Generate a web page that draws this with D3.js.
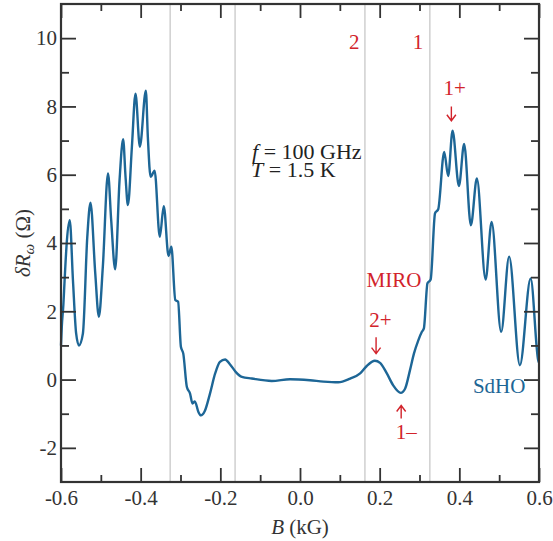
<!DOCTYPE html>
<html>
<head>
<meta charset="utf-8">
<script src="https://cdn.jsdelivr.net/npm/d3@7"></script>
<style>
  body { margin: 0; background: #fff; }
  text { font-family: "Liberation Serif", "Times New Roman", serif; }
</style>
</head>
<body>
<svg id="chart"></svg>
<script>
// magnetic field (kG) and photoresistance (Ohm)
const bField = [
  -0.600, -0.598, -0.594, -0.591, -0.585, -0.578, -0.570, -0.562, -0.555, -0.545,
  -0.534, -0.526, -0.514, -0.505, -0.495, -0.482, -0.474, -0.464, -0.453, -0.444,
  -0.438, -0.432, -0.422, -0.413, -0.402, -0.387, -0.382, -0.375, -0.365, -0.352,
  -0.342, -0.330, -0.323, -0.313, -0.306, -0.299, -0.293, -0.284, -0.276, -0.270,
  -0.264, -0.255, -0.249, -0.239, -0.226, -0.213, -0.201, -0.188, -0.176, -0.161,
  -0.146, -0.121, -0.071, -0.025, 0.025, 0.059, 0.096, 0.126, 0.151, 0.167,
  0.188, 0.201, 0.218, 0.234, 0.253, 0.264, 0.276, 0.286, 0.297, 0.306,
  0.311, 0.320, 0.328, 0.339, 0.347, 0.362, 0.372, 0.383, 0.399, 0.412,
  0.429, 0.444, 0.466, 0.481, 0.505, 0.525, 0.552, 0.579, 0.598, 0.600
];
const deltaR = [
  1.00, 1.55, 2.20, 2.90, 4.10, 4.67, 2.91, 1.35, 1.00, 1.35,
  4.18, 5.18, 3.11, 1.84, 3.30, 6.04, 4.67, 3.23, 5.84, 7.04,
  5.94, 5.11, 6.82, 8.37, 6.82, 8.46, 7.11, 5.94, 6.12, 4.18,
  5.08, 3.62, 3.89, 2.33, 2.28, 0.96, 0.76, -0.22, -0.41, -0.70,
  -0.64, -0.95, -1.05, -0.92, -0.41, 0.18, 0.52, 0.59, 0.45, 0.22,
  0.08, 0.03, -0.04, 0.01, -0.02, -0.06, -0.08, 0.03, 0.18, 0.39,
  0.55, 0.49, 0.18, -0.17, -0.39, -0.26, 0.27, 0.76, 1.15, 1.40,
  1.50, 2.82, 2.93, 4.87, 4.99, 6.67, 5.96, 7.29, 5.67, 6.90,
  4.52, 5.89, 2.93, 4.62, 1.40, 3.60, 0.42, 2.96, 0.57, 0.50
];

const xMajor = [-0.6, -0.4, -0.2, 0.0, 0.2, 0.4, 0.6];
const xLabels = ["-0.6", "-0.4", "-0.2", "0.0", "0.2", "0.4", "0.6"];
const xMinor = [-0.5, -0.3, -0.1, 0.1, 0.3, 0.5];
const yMajor = [-2, 0, 2, 4, 6, 8, 10];
const yLabels = ["-2", "0", "2", "4", "6", "8", "10"];
const yMinor = [-1, 1, 3, 5, 7, 9];
const miroFields = [-0.326, -0.163, 0.163, 0.326];

const W = 553, H = 541;
const margin = { top: 4, right: 14, bottom: 59, left: 61 };
const red = "#d2232b", blue = "#1d6696", ink = "#333";

const svg = d3.select("#chart").attr("width", W).attr("height", H);

const x = d3.scaleLinear().domain([-0.6, 0.6]).range([margin.left, W - margin.right]);
const y = d3.scaleLinear().domain([-3, 11]).range([H - margin.bottom, margin.top]);

// MIRO harmonic positions
svg.append("g")
  .selectAll("line")
  .data(miroFields)
  .enter().append("line")
  .attr("x1", d => x(d)).attr("x2", d => x(d))
  .attr("y1", y(11)).attr("y2", y(-3))
  .attr("stroke", "#c8c8c8")
  .attr("stroke-width", 1.3);

// trace
const pts = bField.map((b, i) => [b, deltaR[i]]);
const line = d3.line()
  .x(d => x(d[0]))
  .y(d => y(d[1]))
  .curve(d3.curveMonotoneX);

svg.append("path")
  .datum(pts)
  .attr("fill", "none")
  .attr("stroke", blue)
  .attr("stroke-width", 2.4)
  .attr("stroke-linejoin", "round")
  .attr("d", line);

// axes: ticks inward on all four sides
function styleAxis(g) {
  g.select(".domain").remove();
  g.selectAll(".tick line").attr("stroke", ink).attr("stroke-width", 1.8);
  g.selectAll(".tick text")
    .attr("fill", ink)
    .style("font-size", "21px")
    .style("font-family", "'Liberation Serif', 'Times New Roman', serif");
}

const yb = y(-3), yt = y(11), xl = x(-0.6), xr = x(0.6);

svg.append("g").attr("transform", `translate(0,${yb})`)
  .call(d3.axisBottom(x).tickValues(xMajor).tickSize(-14).tickPadding(8)
    .tickFormat((d, i) => xLabels[i]))
  .call(styleAxis);
svg.append("g").attr("transform", `translate(0,${yb})`)
  .call(d3.axisBottom(x).tickValues(xMinor).tickSize(-7).tickFormat(""))
  .call(styleAxis);
svg.append("g").attr("transform", `translate(0,${yt})`)
  .call(d3.axisTop(x).tickValues(xMajor).tickSize(-14).tickFormat(""))
  .call(styleAxis);
svg.append("g").attr("transform", `translate(0,${yt})`)
  .call(d3.axisTop(x).tickValues(xMinor).tickSize(-7).tickFormat(""))
  .call(styleAxis);

svg.append("g").attr("transform", `translate(${xl},0)`)
  .call(d3.axisLeft(y).tickValues(yMajor).tickSize(-15).tickPadding(4)
    .tickFormat((d, i) => yLabels[i]))
  .call(styleAxis);
svg.append("g").attr("transform", `translate(${xl},0)`)
  .call(d3.axisLeft(y).tickValues(yMinor).tickSize(-8).tickFormat(""))
  .call(styleAxis);
svg.append("g").attr("transform", `translate(${xr},0)`)
  .call(d3.axisRight(y).tickValues(yMajor).tickSize(-15).tickFormat(""))
  .call(styleAxis);
svg.append("g").attr("transform", `translate(${xr},0)`)
  .call(d3.axisRight(y).tickValues(yMinor).tickSize(-8).tickFormat(""))
  .call(styleAxis);

// frame
svg.append("rect")
  .attr("x", xl).attr("y", yt)
  .attr("width", xr - xl).attr("height", yb - yt)
  .attr("fill", "none")
  .attr("stroke", ink)
  .attr("stroke-width", 2.2);

// axis titles
const xt = svg.append("text")
  .attr("x", x(0)).attr("y", 534)
  .attr("text-anchor", "middle")
  .attr("fill", ink)
  .style("font-size", "21px");
xt.append("tspan").style("font-style", "italic").text("B");
xt.append("tspan").text(" (kG)");

const ytl = svg.append("text")
  .attr("transform", `translate(30,${(yt + yb) / 2}) rotate(-90)`)
  .attr("text-anchor", "middle")
  .attr("fill", ink)
  .style("font-size", "21px");
ytl.append("tspan").style("font-style", "italic").text("δR");
ytl.append("tspan").style("font-style", "italic").style("font-size", "15px").attr("dy", 4).text("ω");
ytl.append("tspan").attr("dy", -4).text(" (Ω)");

// conditions
const cond = svg.append("text")
  .attr("x", 252).attr("y", 159)
  .attr("fill", "#222")
  .style("font-size", "22px");
cond.append("tspan").style("font-style", "italic").text("f");
cond.append("tspan").text(" = 100 GHz");
const cond2 = svg.append("text")
  .attr("x", 251).attr("y", 177)
  .attr("fill", "#222")
  .style("font-size", "22px");
cond2.append("tspan").style("font-style", "italic").text("T");
cond2.append("tspan").text(" = 1.5 K");

// annotations
function note(b, r, txt, color) {
  svg.append("text")
    .attr("x", x(b)).attr("y", y(r))
    .attr("text-anchor", "middle")
    .attr("fill", color)
    .style("font-size", "21px")
    .text(txt);
}
// thin arrow from (b, r0) to (b, r1), head at r1
function arrow(b, r0, r1) {
  const px = x(b), y0 = y(r0), y1 = y(r1);
  const dir = y1 > y0 ? -1 : 1;
  svg.append("path")
    .attr("d", `M${px},${y0}L${px},${y1}M${px - 4.5},${y1 + dir * 6}L${px},${y1}L${px + 4.5},${y1 + dir * 6}`)
    .attr("fill", "none")
    .attr("stroke", red)
    .attr("stroke-width", 1.4);
}
note(0.136, 9.68, "2", red);
note(0.296, 9.68, "1", red);
note(0.388, 8.34, "1+", red);
arrow(0.380, 8.00, 7.58);
note(0.236, 2.71, "MIRO", red);
note(0.202, 1.53, "2+", red);
arrow(0.191, 1.24, 0.76);
arrow(0.254, -1.14, -0.76);
note(0.267, -1.75, "1–", red);
note(0.500, -0.40, "SdHO", blue);
</script>
</body>
</html>
